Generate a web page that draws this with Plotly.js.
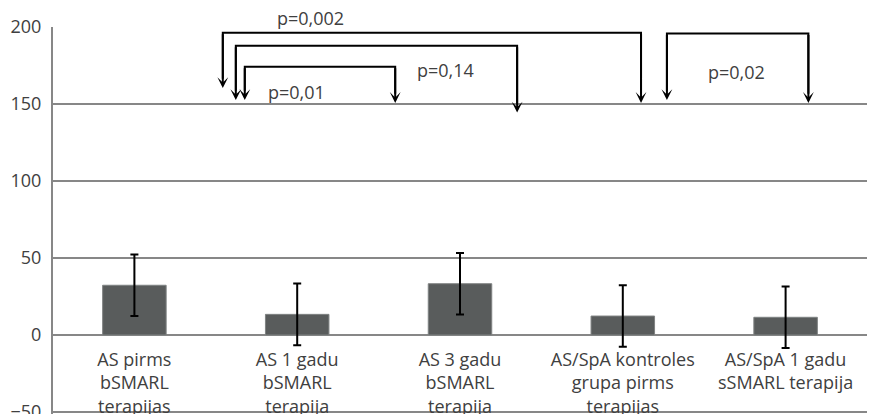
<!DOCTYPE html>
<html>
<head>
<meta charset="utf-8">
<script src="https://cdn.plot.ly/plotly-3.0.1.min.js"></script>
<style>html,body{margin:0;padding:0;background:#fff;}#chart{width:871px;height:414px;}</style>
</head>
<body>
<div id="chart"></div>
<script>
// ---- data ----
const categories = [
  "AS pirms<br>bSMARL<br>terapijas",
  "AS 1 gadu<br>bSMARL<br>terapija",
  "AS 3 gadu<br>bSMARL<br>terapija",
  "AS/SpA kontroles<br>grupa pirms<br>terapijas",
  "AS/SpA 1 gadu<br>sSMARL terapija"
];
const values = [32.3, 13.4, 33.3, 12.3, 11.5];
const errors = [20, 20, 20, 20, 20];
const yTickVals = [-50, 0, 50, 100, 150, 200];
const pLabels = ["p=0,002", "p=0,14", "p=0,01", "p=0,02"];

// ---- layout helpers (positions, not data) ----
const FONT = '"Open Sans", sans-serif';
const idx = categories.map((c, i) => i);
const yMin = -51.3, yMax = 200;
const brackets = [
  {x0: 0.543, x1: 3.112, top: 196.3, tip0: 160.4, tip1: 150.7, tx: 1.083, ty: 206.0},
  {x0: 0.623, x1: 2.351, top: 187.9, tip0: 152.6, tip1: 144.4, tx: 1.908, ty: 172.1},
  {x0: 0.678, x1: 1.602, top: 174.2, tip0: 152.6, tip1: 150.7, tx: 0.997, ty: 157.8},
  {x0: 3.271, x1: 4.140, top: 195.7, tip0: 152.6, tip1: 150.7, tx: 3.696, ty: 170.8}
];

const shapes = [];
const annotations = [];
brackets.forEach((b, i) => {
  shapes.push({
    type: 'path', xref: 'x', yref: 'y',
    path: `M${b.x0},${b.tip0 + 6} L${b.x0},${b.top} L${b.x1},${b.top} L${b.x1},${b.tip1 + 6}`,
    line: {color: '#000', width: 2}
  });
  [[b.x0, b.tip0], [b.x1, b.tip1]].forEach(([x, y]) => {
    annotations.push({
      x: x, y: y, xref: 'x', yref: 'y',
      ax: x, ay: b.top, axref: 'x', ayref: 'y',
      text: '', showarrow: true, arrowhead: 3, arrowsize: 0.9,
      arrowwidth: 2, arrowcolor: '#000', standoff: 0, startstandoff: 0
    });
  });
  annotations.push({
    x: b.tx, y: (b.ty - yMin) / (yMax - yMin), xref: 'x', yref: 'paper', text: pLabels[i],
    showarrow: false, font: {family: FONT, size: 18, color: '#404040'},
    xanchor: 'center', yanchor: 'middle'
  });
});

const trace = {
  type: 'bar',
  x: idx,
  y: values,
  width: 0.39,
  marker: {color: '#595c5c', line: {color: '#7f8282', width: 1}},
  error_y: {type: 'data', array: errors, visible: true, color: '#000', thickness: 2, width: 4},
  hoverinfo: 'none'
};

const layout = {
  width: 871, height: 414,
  margin: {l: 53, r: 4, t: 27, b: 0},
  paper_bgcolor: '#fff', plot_bgcolor: '#fff',
  showlegend: false,
  font: {family: FONT, size: 18, color: '#404040'},
  xaxis: {
    type: 'linear', range: [-0.5, 4.5],
    tickvals: idx, ticktext: categories,
    showgrid: false, zeroline: false,
    showline: false, ticks: '',
    anchor: 'free', position: (0 - yMin) / (yMax - yMin),
    ticklabelstandoff: 12, ticklabeloverflow: 'allow',
    tickfont: {family: FONT, size: 18, color: '#404040'}
  },
  yaxis: {
    range: [yMin, yMax], tickvals: yTickVals,
    showgrid: true, gridcolor: '#878787', gridwidth: 2,
    zeroline: false, showline: true, linecolor: '#878787', linewidth: 2,
    ticks: '', ticklabelstandoff: 6, ticklabeloverflow: 'allow',
    tickfont: {family: FONT, size: 18, color: '#404040'}
  },
  shapes: shapes,
  annotations: annotations
};

Plotly.newPlot('chart', [trace], layout, {staticPlot: true, displayModeBar: false});
</script>
</body>
</html>
